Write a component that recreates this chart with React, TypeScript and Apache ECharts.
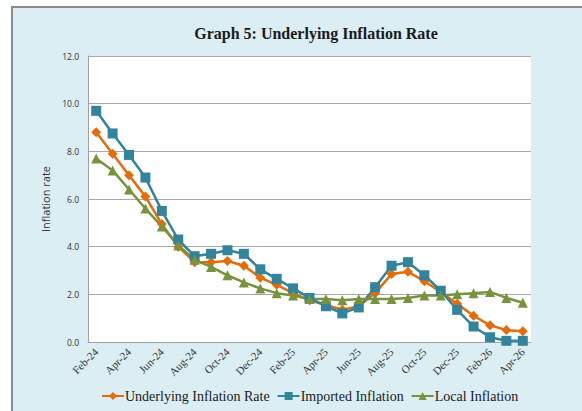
import React, { useEffect, useRef } from "react";
import * as echarts from "echarts";

const categories = [
  "Feb-24", "Mar-24", "Apr-24", "May-24", "Jun-24", "Jul-24", "Aug-24", "Sep-24", "Oct-24",
  "Nov-24", "Dec-24", "Jan-25", "Feb-25", "Mar-25", "Apr-25", "May-25", "Jun-25", "Jul-25",
  "Aug-25", "Sep-25", "Oct-25", "Nov-25", "Dec-25", "Jan-26", "Feb-26", "Mar-26", "Apr-26",
];

const underlying = [
  8.8, 7.9, 7.0, 6.1, 4.95, 4.0, 3.35, 3.35, 3.4, 3.2, 2.7, 2.4, 2.05, 1.75, 1.55, 1.35, 1.5,
  2.05, 2.85, 2.95, 2.55, 2.1, 1.6, 1.1, 0.7, 0.5, 0.45,
];

const imported = [
  9.7, 8.75, 7.85, 6.9, 5.5, 4.3, 3.6, 3.7, 3.85, 3.7, 3.05, 2.65, 2.25, 1.85, 1.5, 1.2, 1.45,
  2.3, 3.2, 3.35, 2.8, 2.15, 1.35, 0.65, 0.2, 0.05, 0.05,
];

const local = [
  7.7, 7.2, 6.4, 5.6, 4.85, 4.05, 3.45, 3.15, 2.8, 2.5, 2.25, 2.05, 1.95, 1.8, 1.8, 1.75, 1.8,
  1.8, 1.8, 1.85, 1.95, 1.95, 2.0, 2.05, 2.1, 1.85, 1.65,
];

const seriesNames = ["Underlying Inflation Rate", "Imported Inflation", "Local Inflation"];
const titleText = "Graph 5: Underlying Inflation Rate";
const yAxisName = "Inflation rate";

const SERIF = '"Liberation Serif", "DejaVu Serif", serif';
const SANS = '"Open Sans", "Liberation Sans", sans-serif';

export default function App() {
  const ref = useRef<HTMLDivElement>(null);

  useEffect(() => {
    if (!ref.current) return;
    const chart = echarts.init(ref.current, null, { renderer: "svg" });
    const mk = (name: string, data: number[], color: string, symbol: string, size: number) => ({
      name,
      type: "line",
      data,
      symbol,
      symbolSize: size,
      showSymbol: true,
      lineStyle: { color, width: 2.5 },
      itemStyle: { color, borderWidth: 0 },
      emphasis: { disabled: true },
    });
    chart.setOption({
      animation: false,
      backgroundColor: "#ffffff",
      graphic: [
        {
          type: "rect",
          z: -10,
          silent: true,
          shape: { x: 12, y: 7, width: 600, height: 420 },
          style: { fill: "#DBEEF3", stroke: "#8a8a8a", lineWidth: 2 },
        },
        {
          type: "rect",
          z: -9,
          silent: true,
          shape: { x: 88, y: 56, width: 443, height: 286 },
          style: { fill: "#ffffff" },
        },
        {
          type: "text",
          x: 316,
          y: 33,
          style: {
            text: titleText,
            font: `bold 16px ${SERIF}`,
            fill: "#1a1a1a",
            textAlign: "center",
            textVerticalAlign: "middle",
          },
        },
      ],
      grid: { left: 88, top: 56, width: 443, height: 286, containLabel: false },
      legend: {
        top: 384,
        left: 96,
        itemGap: 7,
        itemWidth: 22,
        itemHeight: 10,
        data: seriesNames,
        textStyle: { fontFamily: SERIF, fontSize: 14, color: "#1a1a1a", padding: [0, 0, 0, -4] },
      },
      xAxis: {
        type: "category",
        data: categories,
        boundaryGap: true,
        axisLine: { show: true, lineStyle: { color: "#a0a0a0", width: 1 } },
        axisTick: { show: false },
        axisLabel: {
          interval: 1,
          rotate: 45,
          margin: 8,
          fontFamily: SERIF,
          fontSize: 11,
          color: "#333",
        },
      },
      yAxis: {
        type: "value",
        min: 0,
        max: 12,
        interval: 2,
        name: yAxisName,
        nameLocation: "middle",
        nameGap: 36,
        nameTextStyle: { fontFamily: SANS, fontSize: 11, color: "#333" },
        axisLine: { show: true, lineStyle: { color: "#a0a0a0", width: 1 } },
        axisTick: { show: false },
        splitLine: { show: true, lineStyle: { color: "#a8a8a8", width: 1 } },
        axisLabel: {
          formatter: (v: number) => v.toFixed(1),
          fontFamily: SANS,
          fontSize: 8.5,
          color: "#333",
          margin: 9,
        },
      },
      series: [
        mk(seriesNames[0], underlying, "#E46C0A", "diamond", 10),
        mk(seriesNames[1], imported, "#31849B", "rect", 10),
        mk(seriesNames[2], local, "#77933C", "triangle", 10),
      ],
    });
    return () => chart.dispose();
  }, []);

  return (
    <div
      ref={ref}
      style={{ position: "absolute", left: 0, top: 0, width: 582, height: 411 }}
    />
  );
}
